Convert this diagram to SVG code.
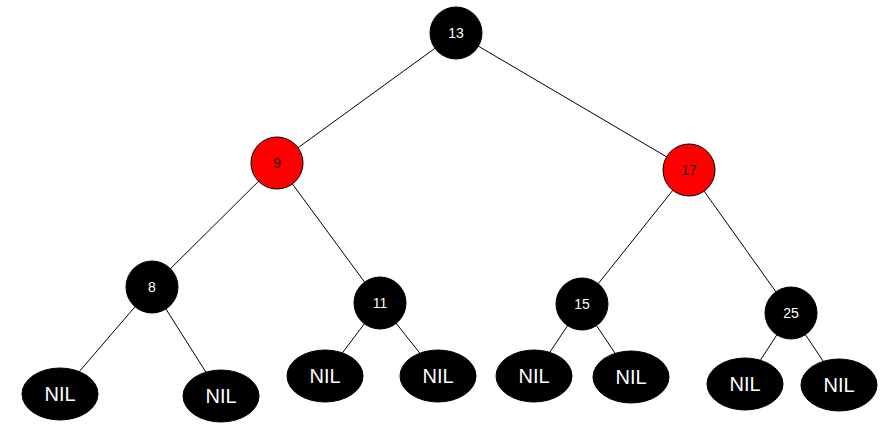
<svg xmlns="http://www.w3.org/2000/svg" width="887" height="425" viewBox="0 0 887 425">
<style>
.edge{stroke:#000;stroke-width:1;fill:none}
.blk{fill:#000;stroke:#000;stroke-width:1}
.red{fill:#ff0000;stroke:#000;stroke-width:1}
.num{font-family:"Liberation Sans",Arial,sans-serif;font-size:14px;fill:#fff;text-anchor:middle;dominant-baseline:central}
.numd{font-family:"Liberation Sans",Arial,sans-serif;font-size:14px;fill:#1a1a1a;text-anchor:middle;dominant-baseline:central}
.nil{font-family:"Liberation Sans",Arial,sans-serif;font-size:20px;fill:#fff;text-anchor:middle;dominant-baseline:central}
</style>
<rect width="887" height="425" fill="#fff"/>
<g id="connectors">
<line class="edge" x1="456" y1="33" x2="277" y2="163"/>
<line class="edge" x1="456" y1="33" x2="689" y2="170"/>
<line class="edge" x1="277" y1="163" x2="152" y2="287"/>
<line class="edge" x1="277" y1="163" x2="380" y2="303"/>
<line class="edge" x1="689" y1="170" x2="582" y2="304"/>
<line class="edge" x1="689" y1="170" x2="791" y2="313"/>
<line class="edge" x1="152" y1="287" x2="60" y2="394"/>
<line class="edge" x1="152" y1="287" x2="221" y2="396"/>
<line class="edge" x1="380" y1="303" x2="325" y2="376"/>
<line class="edge" x1="380" y1="303" x2="438" y2="376"/>
<line class="edge" x1="582" y1="304" x2="534" y2="376"/>
<line class="edge" x1="582" y1="304" x2="631" y2="377"/>
<line class="edge" x1="791" y1="313" x2="745" y2="384"/>
<line class="edge" x1="791" y1="313" x2="839" y2="385"/>
</g>
<g id="n13"><circle class="blk" cx="456" cy="33" r="26"/><text class="num" x="456" y="33">13</text></g>
<g id="n9"><circle class="red" cx="277" cy="163" r="26"/><text class="numd" x="277" y="163">9</text></g>
<g id="n17"><circle class="red" cx="689" cy="170" r="26"/><text class="numd" x="689" y="170">17</text></g>
<g id="n8"><circle class="blk" cx="152" cy="287" r="26"/><text class="num" x="152" y="287">8</text></g>
<g id="n11"><circle class="blk" cx="380" cy="303" r="26"/><text class="num" x="380" y="303">11</text></g>
<g id="n15"><circle class="blk" cx="582" cy="304" r="26"/><text class="num" x="582" y="304">15</text></g>
<g id="n25"><circle class="blk" cx="791" cy="313" r="26"/><text class="num" x="791" y="313">25</text></g>
<g id="nil1"><ellipse class="blk" cx="60" cy="394" rx="38" ry="26"/><text class="nil" x="60" y="394">NIL</text></g>
<g id="nil2"><ellipse class="blk" cx="221" cy="396" rx="38" ry="26"/><text class="nil" x="221" y="396">NIL</text></g>
<g id="nil3"><ellipse class="blk" cx="325" cy="376" rx="38" ry="26"/><text class="nil" x="325" y="376">NIL</text></g>
<g id="nil4"><ellipse class="blk" cx="438" cy="376" rx="38" ry="26"/><text class="nil" x="438" y="376">NIL</text></g>
<g id="nil5"><ellipse class="blk" cx="534" cy="376" rx="38" ry="26"/><text class="nil" x="534" y="376">NIL</text></g>
<g id="nil6"><ellipse class="blk" cx="631" cy="377" rx="38" ry="26"/><text class="nil" x="631" y="377">NIL</text></g>
<g id="nil7"><ellipse class="blk" cx="745" cy="384" rx="38" ry="26"/><text class="nil" x="745" y="384">NIL</text></g>
<g id="nil8"><ellipse class="blk" cx="839" cy="385" rx="38" ry="26"/><text class="nil" x="839" y="385">NIL</text></g>
</svg>
